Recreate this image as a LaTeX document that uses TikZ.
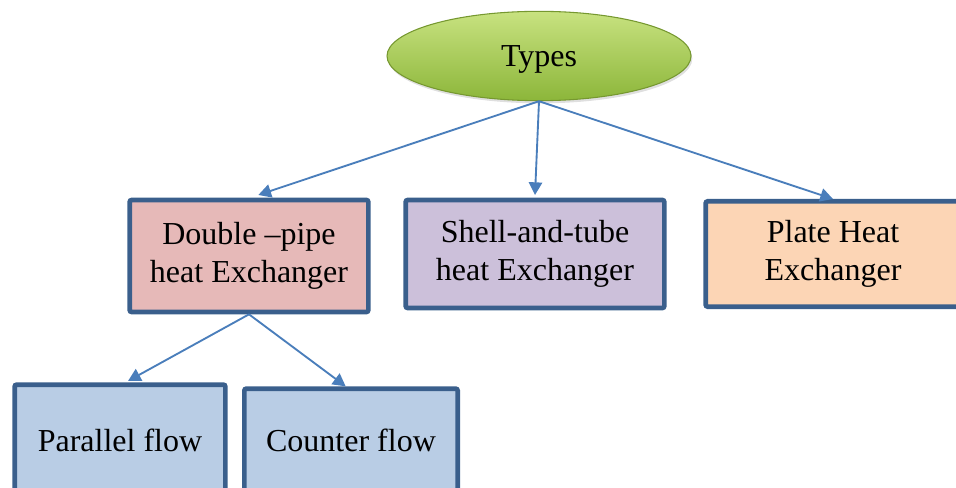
\documentclass[tikz,border=0pt]{standalone}
\usepackage{fontspec}
\setmainfont{Liberation Serif}
\usetikzlibrary{arrows.meta,positioning,shapes.geometric,shadows}
\definecolor{typesTop}{RGB}{200,226,128}
\definecolor{typesBot}{RGB}{140,182,58}
\definecolor{typesEdge}{RGB}{118,152,48}
\definecolor{boxEdge}{RGB}{58,95,140}
\definecolor{arrBlue}{RGB}{74,126,187}
\definecolor{pinkFill}{RGB}{230,185,184}
\definecolor{lilacFill}{RGB}{204,192,218}
\definecolor{peachFill}{RGB}{252,213,181}
\definecolor{blueFill}{RGB}{185,205,229}
\tikzset{every picture/.style={line width=0.75pt}}
\tikzset{
  typebox/.style={draw=boxEdge, line width=3.5pt, rounded corners=1.5pt,
    align=center, inner sep=0pt, font=\fontsize{24}{28}\selectfont},
  arr/.style={draw=arrBlue, line width=1.4pt, -{Triangle[length=9.5pt,width=10pt]}}
}

\begin{document}
\begin{tikzpicture}[x=0.75pt, y=-0.75pt]

    \useasboundingbox (0,0) rectangle (956,488);
    \clip (0,0) rectangle (956,488);

    % --- root ---
    \node[ellipse, minimum width=228pt, minimum height=67pt, inner sep=0pt,
          top color=typesTop, bottom color=typesBot, draw=typesEdge, line width=0.8pt,
          drop shadow={opacity=0.25, shadow xshift=1pt, shadow yshift=-2pt},
          text depth=0pt, font=\fontsize{24}{28}\selectfont] (types) at (539,56) {Types};

    % --- second row ---
    \node[typebox, fill=pinkFill, minimum width=179pt, minimum height=84pt]
        (dpipe) at (249,256) {Double --pipe\\heat Exchanger};
    \node[typebox, fill=lilacFill, minimum width=194pt, minimum height=81pt]
        (shell) at (535,254) {Shell-and-tube\\heat Exchanger};
    \node[typebox, fill=peachFill, minimum width=191pt, minimum height=79pt]
        (plate) at (833,254) {Plate Heat\\Exchanger};

    % --- third row ---
    \node[typebox, fill=blueFill, minimum width=158pt, minimum height=83pt]
        (para) at (120,440) {Parallel flow};
    \node[typebox, fill=blueFill, minimum width=160pt, minimum height=77pt]
        (counter) at (351,440) {Counter flow};

    % --- arrows ---
    \draw[arr] (types.south) -- ([xshift=7pt, yshift=2pt]dpipe.north);
    \draw[arr] (types.south) -- ([yshift=2pt]shell.north);
    \draw[arr] (types.south) -- ([yshift=0pt]plate.north);
    \draw[arr] (dpipe.south) -- ([xshift=6pt, yshift=1pt]para.north);
    \draw[arr] (dpipe.south) -- ([xshift=-4pt, yshift=0pt]counter.north);

\end{tikzpicture}
\end{document}
